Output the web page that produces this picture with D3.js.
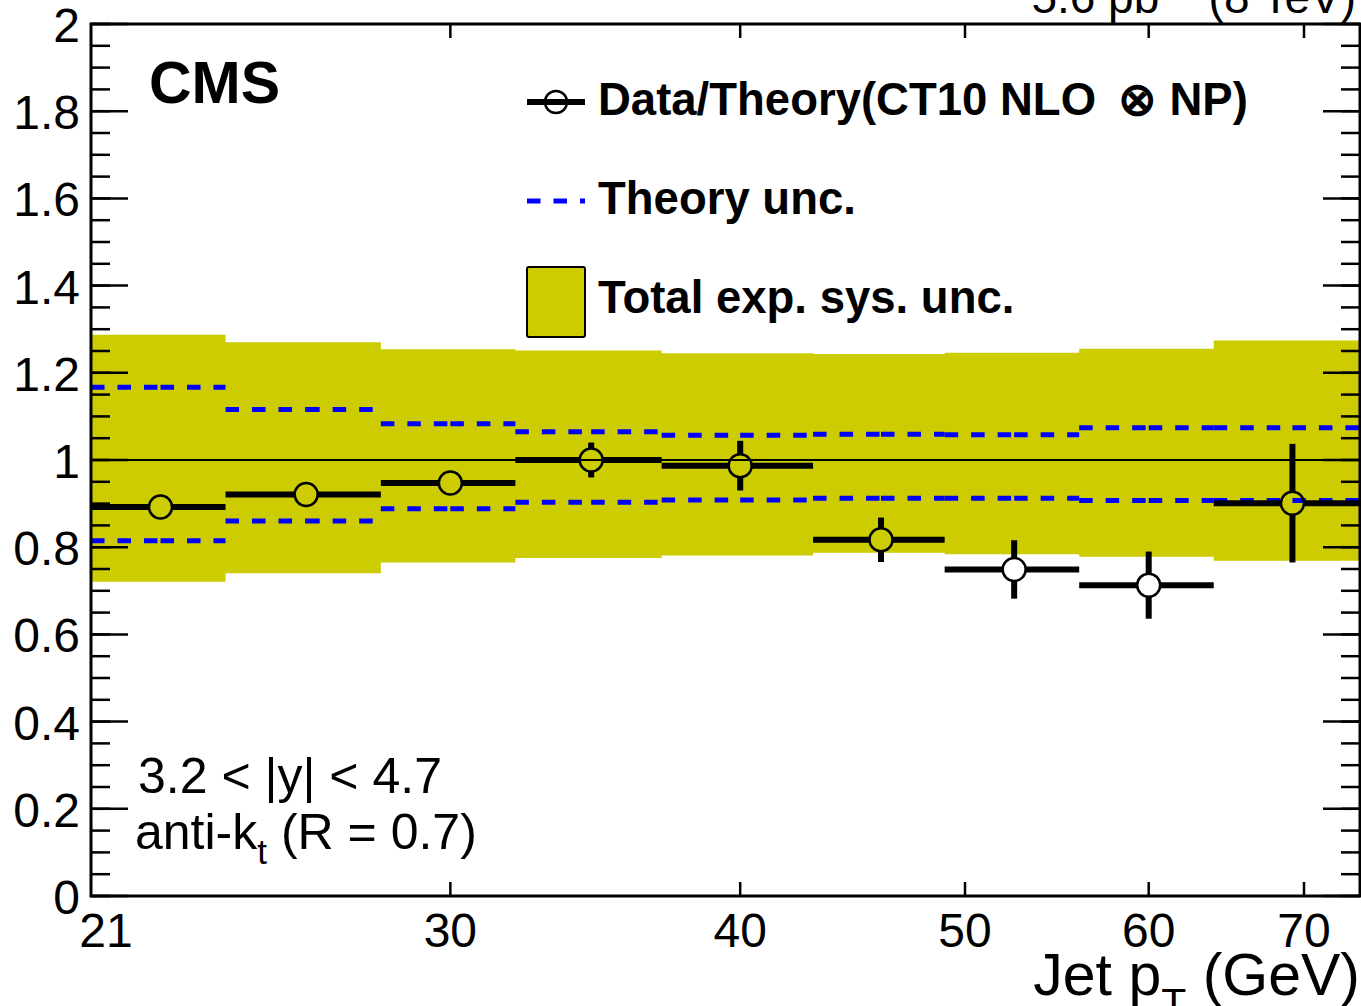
<!DOCTYPE html>
<html>
<head>
<meta charset="utf-8">
<script src="https://cdn.jsdelivr.net/npm/d3@7"></script>
<style>
body { margin: 0; background: #fff; }
text { font-family: 'Liberation Sans', Arial, Helvetica, sans-serif; fill: #000; }
</style>
</head>
<body>
<svg id="chart" width="1361" height="1006"></svg>
<script>
// jet pT bins (GeV) and the point position inside each bin
var binEdges = [21, 24, 28, 32, 37, 43, 49, 56, 64, 74];
var ptCenters = [22.5, 26, 30, 34.5, 40, 46, 52.5, 60, 69.2];

// data / theory ratio with stat. errors
var ratio = [0.892, 0.921, 0.947, 1.000, 0.987, 0.817, 0.749, 0.713, 0.901];
var statErr = [0.02, 0.02, 0.02, 0.040, 0.057, 0.051, 0.067, 0.077, 0.136];

// total experimental systematic band
var sysUp = [1.287, 1.270, 1.254, 1.251, 1.245, 1.243, 1.246, 1.255, 1.274];
var sysDown = [0.721, 0.740, 0.765, 0.775, 0.781, 0.787, 0.784, 0.778, 0.769];

// theory uncertainty (dashed)
var theoryUp = [1.167, 1.116, 1.083, 1.065, 1.057, 1.059, 1.058, 1.074, 1.074];
var theoryDown = [0.815, 0.860, 0.888, 0.903, 0.908, 0.912, 0.912, 0.907, 0.907];

// axis ticks
var xTicks = [30, 40, 50, 60, 70];
var xLabelValues = [21, 30, 40, 50, 60, 70];
var yTicks = [0, 0.2, 0.4, 0.6, 0.8, 1, 1.2, 1.4, 1.6, 1.8, 2];
var yTickLabels = ['0', '0.2', '0.4', '0.6', '0.8', '1', '1.2', '1.4', '1.6', '1.8', '2'];

var svg = d3.select('#chart');

var plot = { l: 91, r: 1360, t: 24, b: 896 };

var x = d3.scaleLog().domain([21, 74]).range([plot.l, plot.r]);
var y = d3.scaleLinear().domain([0, 2]).range([plot.b, plot.t]);

var bins = ratio.map(function (v, i) {
    return {
        lo: binEdges[i], hi: binEdges[i + 1], c: ptCenters[i],
        v: v, e: statErr[i],
        sUp: sysUp[i], sDn: sysDown[i],
        tUp: theoryUp[i], tDn: theoryDown[i]
    };
});

var bandColor = '#cccc00';

// systematic band as a stepped area
var bandPts = [];
bins.forEach(function (b) {
    bandPts.push({ x: b.lo, y0: b.sDn, y1: b.sUp });
    bandPts.push({ x: b.hi, y0: b.sDn, y1: b.sUp });
});
svg.append('path')
    .datum(bandPts)
    .attr('fill', bandColor)
    .attr('d', d3.area()
        .x(function (d) { return x(d.x); })
        .y0(function (d) { return y(d.y0); })
        .y1(function (d) { return y(d.y1); }));

// theory unc. dashed lines, dash pattern restarts at the point position
var theoryG = svg.append('g')
    .attr('stroke', '#0000ff')
    .attr('stroke-width', 5)
    .attr('stroke-dasharray', '13.5,13');
bins.forEach(function (b) {
    [b.tUp, b.tDn].forEach(function (t) {
        theoryG.append('line')
            .attr('x1', x(b.lo)).attr('x2', x(b.c))
            .attr('y1', y(t)).attr('y2', y(t));
        theoryG.append('line')
            .attr('x1', x(b.c)).attr('x2', x(b.hi))
            .attr('y1', y(t)).attr('y2', y(t));
    });
});

// line at ratio = 1
svg.append('line')
    .attr('x1', plot.l).attr('x2', plot.r)
    .attr('y1', y(1)).attr('y2', y(1))
    .attr('stroke', '#000').attr('stroke-width', 2);

// data points: open circles, error bars drawn outside the marker
var r = 11.5;
var ptG = svg.append('g').attr('stroke', '#000');
bins.forEach(function (b) {
    var cx = x(b.c), cy = y(b.v);
    ptG.append('line')
        .attr('x1', x(b.lo)).attr('x2', cx - r)
        .attr('y1', cy).attr('y2', cy)
        .attr('stroke-width', 6);
    ptG.append('line')
        .attr('x1', cx + r).attr('x2', x(b.hi))
        .attr('y1', cy).attr('y2', cy)
        .attr('stroke-width', 6);
    var yTop = y(b.v + b.e), yBot = y(b.v - b.e);
    if (cy - yTop > r) {
        ptG.append('line')
            .attr('x1', cx).attr('x2', cx)
            .attr('y1', yTop).attr('y2', cy - r)
            .attr('stroke-width', 6);
        ptG.append('line')
            .attr('x1', cx).attr('x2', cx)
            .attr('y1', cy + r).attr('y2', yBot)
            .attr('stroke-width', 6);
    }
    ptG.append('circle')
        .attr('cx', cx).attr('cy', cy).attr('r', r)
        .attr('fill', 'none')
        .attr('stroke-width', 2.5);
});

// frame and ticks
var axG = svg.append('g').attr('stroke', '#000');
yTicks.forEach(function (v) {
    axG.append('line').attr('x1', plot.l).attr('x2', plot.l + 37)
        .attr('y1', y(v)).attr('y2', y(v)).attr('stroke-width', 2.5);
    axG.append('line').attr('x1', plot.r).attr('x2', plot.r - 37)
        .attr('y1', y(v)).attr('y2', y(v)).attr('stroke-width', 2.5);
});
d3.range(0, 2.001, 0.05).forEach(function (v) {
    axG.append('line').attr('x1', plot.l).attr('x2', plot.l + 19)
        .attr('y1', y(v)).attr('y2', y(v)).attr('stroke-width', 2.5);
    axG.append('line').attr('x1', plot.r).attr('x2', plot.r - 19)
        .attr('y1', y(v)).attr('y2', y(v)).attr('stroke-width', 2.5);
});
xTicks.forEach(function (v) {
    axG.append('line').attr('x1', x(v)).attr('x2', x(v))
        .attr('y1', plot.b).attr('y2', plot.b - 14).attr('stroke-width', 2.5);
    axG.append('line').attr('x1', x(v)).attr('x2', x(v))
        .attr('y1', plot.t).attr('y2', plot.t + 14).attr('stroke-width', 2.5);
});
axG.append('rect')
    .attr('x', plot.l).attr('y', plot.t)
    .attr('width', plot.r - plot.l).attr('height', plot.b - plot.t)
    .attr('fill', 'none').attr('stroke-width', 3);

// tick labels
svg.selectAll('.ylab').data(yTicks).enter().append('text')
    .attr('class', 'ylab')
    .attr('x', 80)
    .attr('y', function (d) { return y(d) + 18; })
    .attr('text-anchor', 'end')
    .style('font-size', '48px')
    .text(function (d, i) { return yTickLabels[i]; });

svg.selectAll('.xlab').data(xLabelValues).enter().append('text')
    .attr('class', 'xlab')
    .attr('x', function (d, i) { return x(d) + (i === 0 ? 15 : 0); })
    .attr('y', 947)
    .attr('text-anchor', 'middle')
    .style('font-size', '48px')
    .text(function (d) { return d; });

// axis title
var xt = svg.append('text')
    .attr('x', 1360).attr('y', 995)
    .attr('text-anchor', 'end')
    .style('font-size', '59px');
xt.append('tspan').text('Jet p');
xt.append('tspan').attr('dy', 22).style('font-size', '41px').text('T');
xt.append('tspan').attr('dy', -22).text(' (GeV)');

// luminosity label, cut at the top of the page
var lt = svg.append('text')
    .attr('x', 1356).attr('y', 13)
    .attr('text-anchor', 'end')
    .style('font-size', '46px');
lt.append('tspan').text('5.6 pb');
lt.append('tspan').attr('dy', -18).style('font-size', '32px').text('\u22121');
lt.append('tspan').attr('dy', 18).text(' (8 TeV)');

// CMS label
svg.append('text')
    .attr('x', 149).attr('y', 103)
    .style('font-size', '59px')
    .style('font-weight', 'bold')
    .text('CMS');

// rapidity / algorithm labels
svg.append('text')
    .attr('x', 138).attr('y', 793)
    .style('font-size', '50px')
    .text('3.2 < |y| < 4.7');
var at = svg.append('text')
    .attr('x', 135).attr('y', 849)
    .style('font-size', '50px');
at.append('tspan').text('anti-k');
at.append('tspan').attr('dy', 15).style('font-size', '35px').text('t');
at.append('tspan').attr('dy', -15).text(' (R = 0.7)');

// legend
var lg = svg.append('g');
lg.append('line')
    .attr('x1', 527).attr('x2', 585).attr('y1', 102).attr('y2', 102)
    .attr('stroke', '#000').attr('stroke-width', 6);
lg.append('circle')
    .attr('cx', 556).attr('cy', 102).attr('r', 11)
    .attr('fill', 'none').attr('stroke', '#000').attr('stroke-width', 2.5);
lg.append('line')
    .attr('x1', 527).attr('x2', 585).attr('y1', 201).attr('y2', 201)
    .attr('stroke', '#0000ff').attr('stroke-width', 5)
    .attr('stroke-dasharray', '13.5,13');
lg.append('rect')
    .attr('x', 527).attr('y', 267).attr('width', 58).attr('height', 70)
    .attr('rx', 2)
    .attr('fill', bandColor).attr('stroke', '#000').attr('stroke-width', 2);

var legendText = ['Data/Theory(CT10 NLO \u2009\u2297 NP)', 'Theory unc.', 'Total exp. sys. unc.'];
lg.selectAll('.legtext').data(legendText).enter().append('text')
    .attr('class', 'legtext')
    .attr('x', 598)
    .attr('y', function (d, i) { return 115 + i * 99; })
    .style('font-size', '45.5px')
    .style('font-weight', 'bold')
    .text(function (d) { return d; });
</script>
</body>
</html>
